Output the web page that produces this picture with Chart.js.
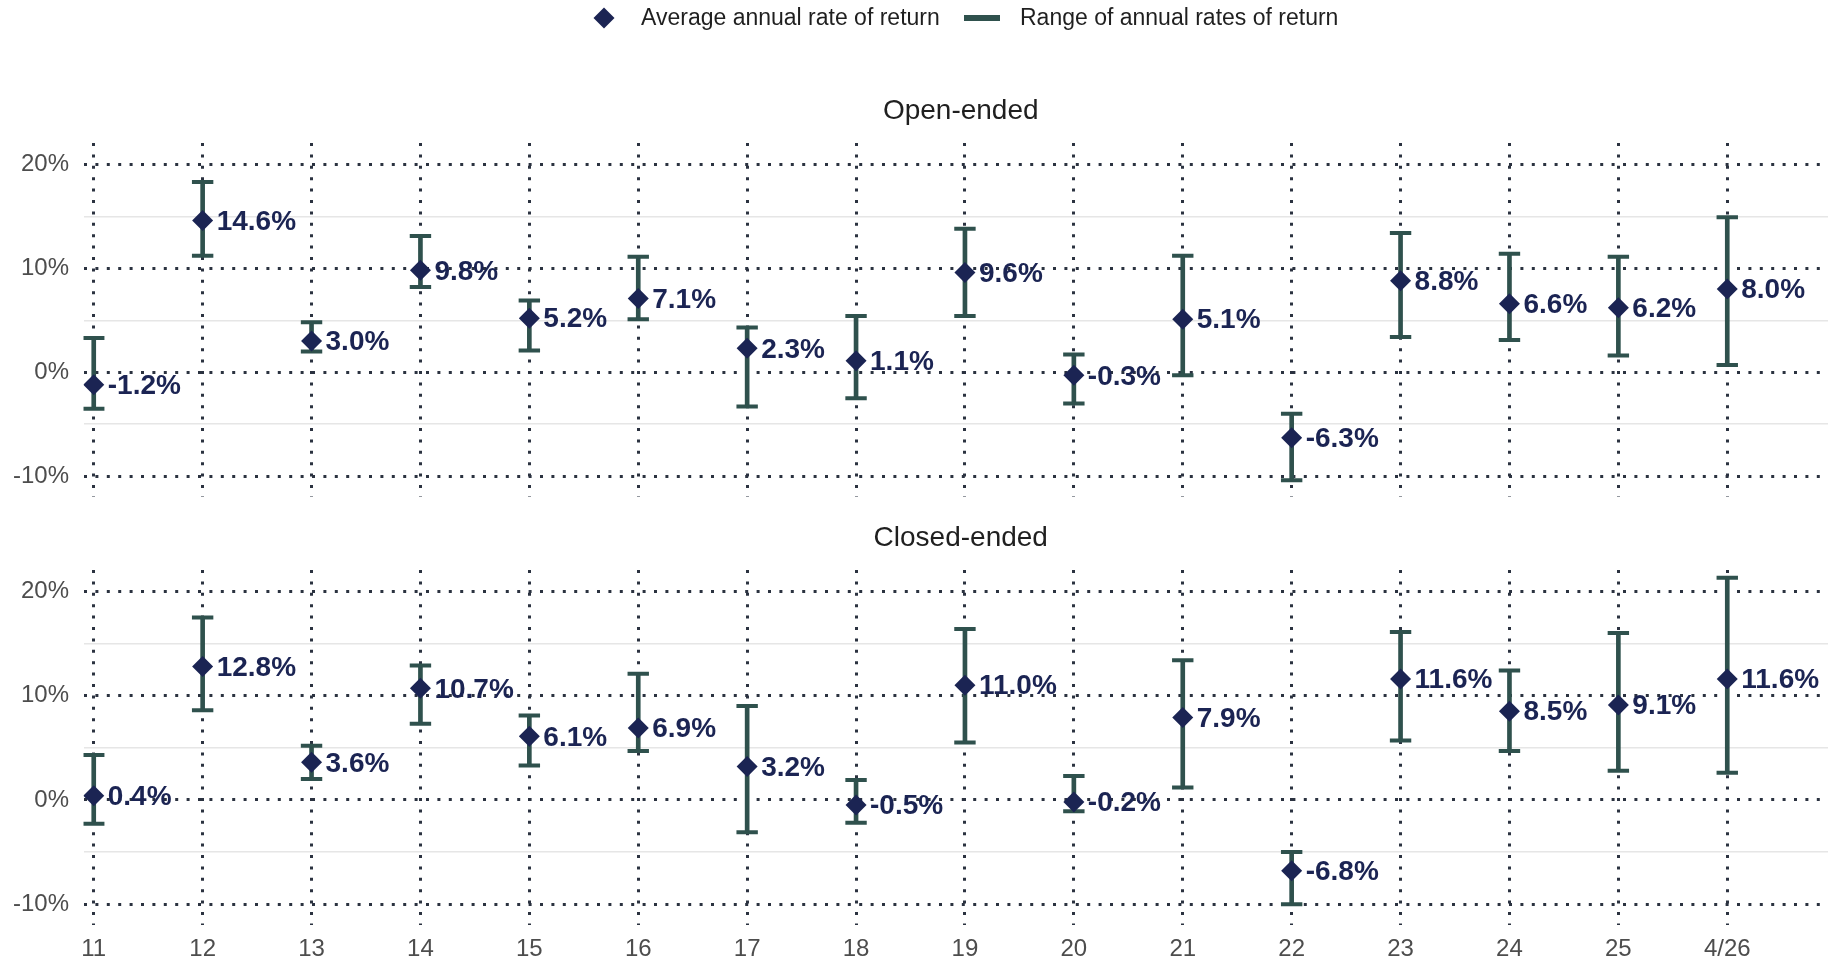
<!DOCTYPE html>
<html>
<head>
<meta charset="utf-8">
<script src="https://cdn.jsdelivr.net/npm/chart.js@4.4.1/dist/chart.umd.min.js"></script>
<style>
  html, body { margin: 0; padding: 0; background: #ffffff; }
  #wrap { position: relative; width: 1828px; height: 958px; overflow: hidden; background: #ffffff; }
  canvas { position: absolute; left: 0; }
  #openChart { top: 0; }
  #closedChart { top: 510px; }
</style>
</head>
<body>
<div id="wrap">
  <canvas id="openChart" width="1828" height="510"></canvas>
  <canvas id="closedChart" width="1828" height="448"></canvas>
</div>
<script>
// Year labels along the horizontal axis
const categories = ['11', '12', '13', '14', '15', '16', '17', '18', '19', '20', '21', '22', '23', '24', '25', '4/26'];

// Open-ended funds: average annual return and the range (low / high), in %
const openAvg  = [-1.2, 14.6, 3.0, 9.8, 5.2, 7.1, 2.3, 1.1, 9.6, -0.3, 5.1, -6.3, 8.8, 6.6, 6.2, 8.0];
const openLow  = [-3.5, 11.2, 2.0, 8.2, 2.1, 5.1, -3.3, -2.5, 5.4, -3.0, -0.3, -10.4, 3.4, 3.1, 1.6, 0.7];
const openHigh = [3.3, 18.3, 4.8, 13.1, 6.9, 11.1, 4.3, 5.4, 13.8, 1.7, 11.2, -4.0, 13.4, 11.4, 11.1, 14.9];

// Closed-ended funds
const closedAvg  = [0.4, 12.8, 3.6, 10.7, 6.1, 6.9, 3.2, -0.5, 11.0, -0.2, 7.9, -6.8, 11.6, 8.5, 9.1, 11.6];
const closedLow  = [-2.3, 8.6, 2.0, 7.3, 3.3, 4.7, -3.1, -2.2, 5.5, -1.1, 1.2, -10.0, 5.7, 4.7, 2.8, 2.6];
const closedHigh = [4.3, 17.5, 5.2, 12.9, 8.1, 12.1, 9.0, 1.9, 16.4, 2.3, 13.4, -5.0, 16.1, 12.4, 16.0, 21.3];

// Value-axis ticks (labelled every 10%, light lines halfway between)
const yTicks = [-10, -5, 0, 5, 10, 15, 20];

const legendLabels = ['Average annual rate of return', 'Range of annual rates of return'];
const panelTitles = ['Open-ended', 'Closed-ended'];

const NAVY = '#1b2453';
const TEAL = '#2f514d';
const GRID_DARK = '#2b3240';
const GRID_LIGHT = '#e6e6e6';
const FONT = '"Liberation Sans", Arial, Helvetica, sans-serif';

const isMajor = v => Math.round(v) % 10 === 0;

function pointData(values) { return values.map((v, i) => ({ x: i, y: v })); }
function rangeData(lo, hi) { return lo.map((v, i) => ({ x: i, y: [v, hi[i]] })); }

// Draws value labels beside the diamonds, the panel title and (top panel) the legend
const decorPlugin = {
  id: 'decor',
  afterDatasetsDraw(chart) {
    const ctx = chart.ctx;
    chart.data.datasets.forEach((ds, di) => {
      if (!ds.showValues) return;
      const meta = chart.getDatasetMeta(di);
      ctx.save();
      ctx.font = 'bold 28px ' + FONT;
      ctx.fillStyle = NAVY;
      ctx.textAlign = 'left';
      ctx.textBaseline = 'middle';
      meta.data.forEach((el, i) => {
        ctx.fillText(ds.data[i].y.toFixed(1) + '%', el.x + 14, el.y + 1.5);
      });
      ctx.restore();
    });
  },
  afterDraw(chart, args, opts) {
    const ctx = chart.ctx;
    const area = chart.chartArea;
    ctx.save();
    ctx.fillStyle = '#1f1f1f';
    ctx.font = '28px ' + FONT;
    ctx.textAlign = 'center';
    ctx.textBaseline = 'middle';
    ctx.fillText(opts.title, (area.left + area.right) / 2 + 5, area.top - 32);

    if (opts.legend) {
      const cy = 18;
      // diamond marker
      ctx.fillStyle = NAVY;
      ctx.beginPath();
      ctx.moveTo(604, cy - 10.5);
      ctx.lineTo(614.5, cy);
      ctx.lineTo(604, cy + 10.5);
      ctx.lineTo(593.5, cy);
      ctx.closePath();
      ctx.fill();
      // range marker
      ctx.fillStyle = TEAL;
      ctx.fillRect(964, cy - 3, 36, 6);
      ctx.fillStyle = '#1f1f1f';
      ctx.font = '23px ' + FONT;
      ctx.textAlign = 'left';
      ctx.fillText(legendLabels[0], 641, cy + 1);
      ctx.fillText(legendLabels[1], 1020, cy + 1);
    }
    ctx.restore();
  }
};

function buildChart(canvasId, avg, lo, hi, title, showLegend, showXLabels) {
  return new Chart(document.getElementById(canvasId), {
    data: {
      datasets: [
        {
          type: 'bar',
          data: rangeData(lo, hi),
          backgroundColor: TEAL,
          borderWidth: 0,
          barThickness: 4,
          order: 3
        },
        {
          type: 'scatter',
          data: pointData(lo),
          pointStyle: 'line',
          pointRadius: 10.7,
          borderColor: TEAL,
          borderWidth: 4,
          order: 2
        },
        {
          type: 'scatter',
          data: pointData(hi),
          pointStyle: 'line',
          pointRadius: 10.7,
          borderColor: TEAL,
          borderWidth: 4,
          order: 2
        },
        {
          type: 'scatter',
          data: pointData(avg),
          pointStyle: 'rectRot',
          pointRadius: 10.5,
          backgroundColor: NAVY,
          borderWidth: 0,
          showValues: true,
          order: 1
        }
      ]
    },
    options: {
      responsive: false,
      animation: false,
      devicePixelRatio: 1,
      events: [],
      layout: { autoPadding: false, padding: { top: showLegend ? 143 : 60, bottom: showXLabels ? 0 : 13, left: 0, right: 0 } },
      plugins: {
        legend: { display: false },
        tooltip: { enabled: false },
        decor: { title: title, legend: showLegend }
      },
      scales: {
        x: {
          type: 'linear',
          offset: false,
          min: -0.094,
          max: 15.925,
          afterBuildTicks: s => { s.ticks = categories.map((c, i) => ({ value: i })); },
          afterFit: s => { s.paddingLeft = 0; s.paddingRight = 0; s.height = showXLabels ? 33 : 0; },
          ticks: {
            display: showXLabels,
            autoSkip: false,
            maxRotation: 0,
            padding: 10,
            color: '#4d4d4d',
            font: { family: FONT, size: 24 },
            callback: v => categories[v]
          },
          grid: { offset: false, drawTicks: false, color: GRID_DARK, lineWidth: 3 },
          border: { display: false, dash: [3, 8.4] }
        },
        y: {
          min: -12,
          max: 22.05,
          afterBuildTicks: s => { s.ticks = yTicks.map(v => ({ value: v })); },
          afterFit: s => { s.width = 83.5; s.paddingTop = 0; s.paddingBottom = 0; },
          ticks: {
            padding: 14.5,
            color: '#4d4d4d',
            font: { family: FONT, size: 24 },
            callback: v => (isMajor(v) ? v + '%' : '')
          },
          grid: {
            drawTicks: false,
            color: c => (isMajor(c.tick.value) ? GRID_DARK : GRID_LIGHT),
            lineWidth: c => (isMajor(c.tick.value) ? 3 : 1.5)
          },
          border: {
            display: false,
            dash: c => (isMajor(c.tick.value) ? [3, 8.4] : [])
          }
        }
      }
    },
    plugins: [decorPlugin]
  });
}

buildChart('openChart', openAvg, openLow, openHigh, panelTitles[0], true, false);
buildChart('closedChart', closedAvg, closedLow, closedHigh, panelTitles[1], false, true);
</script>
</body>
</html>
